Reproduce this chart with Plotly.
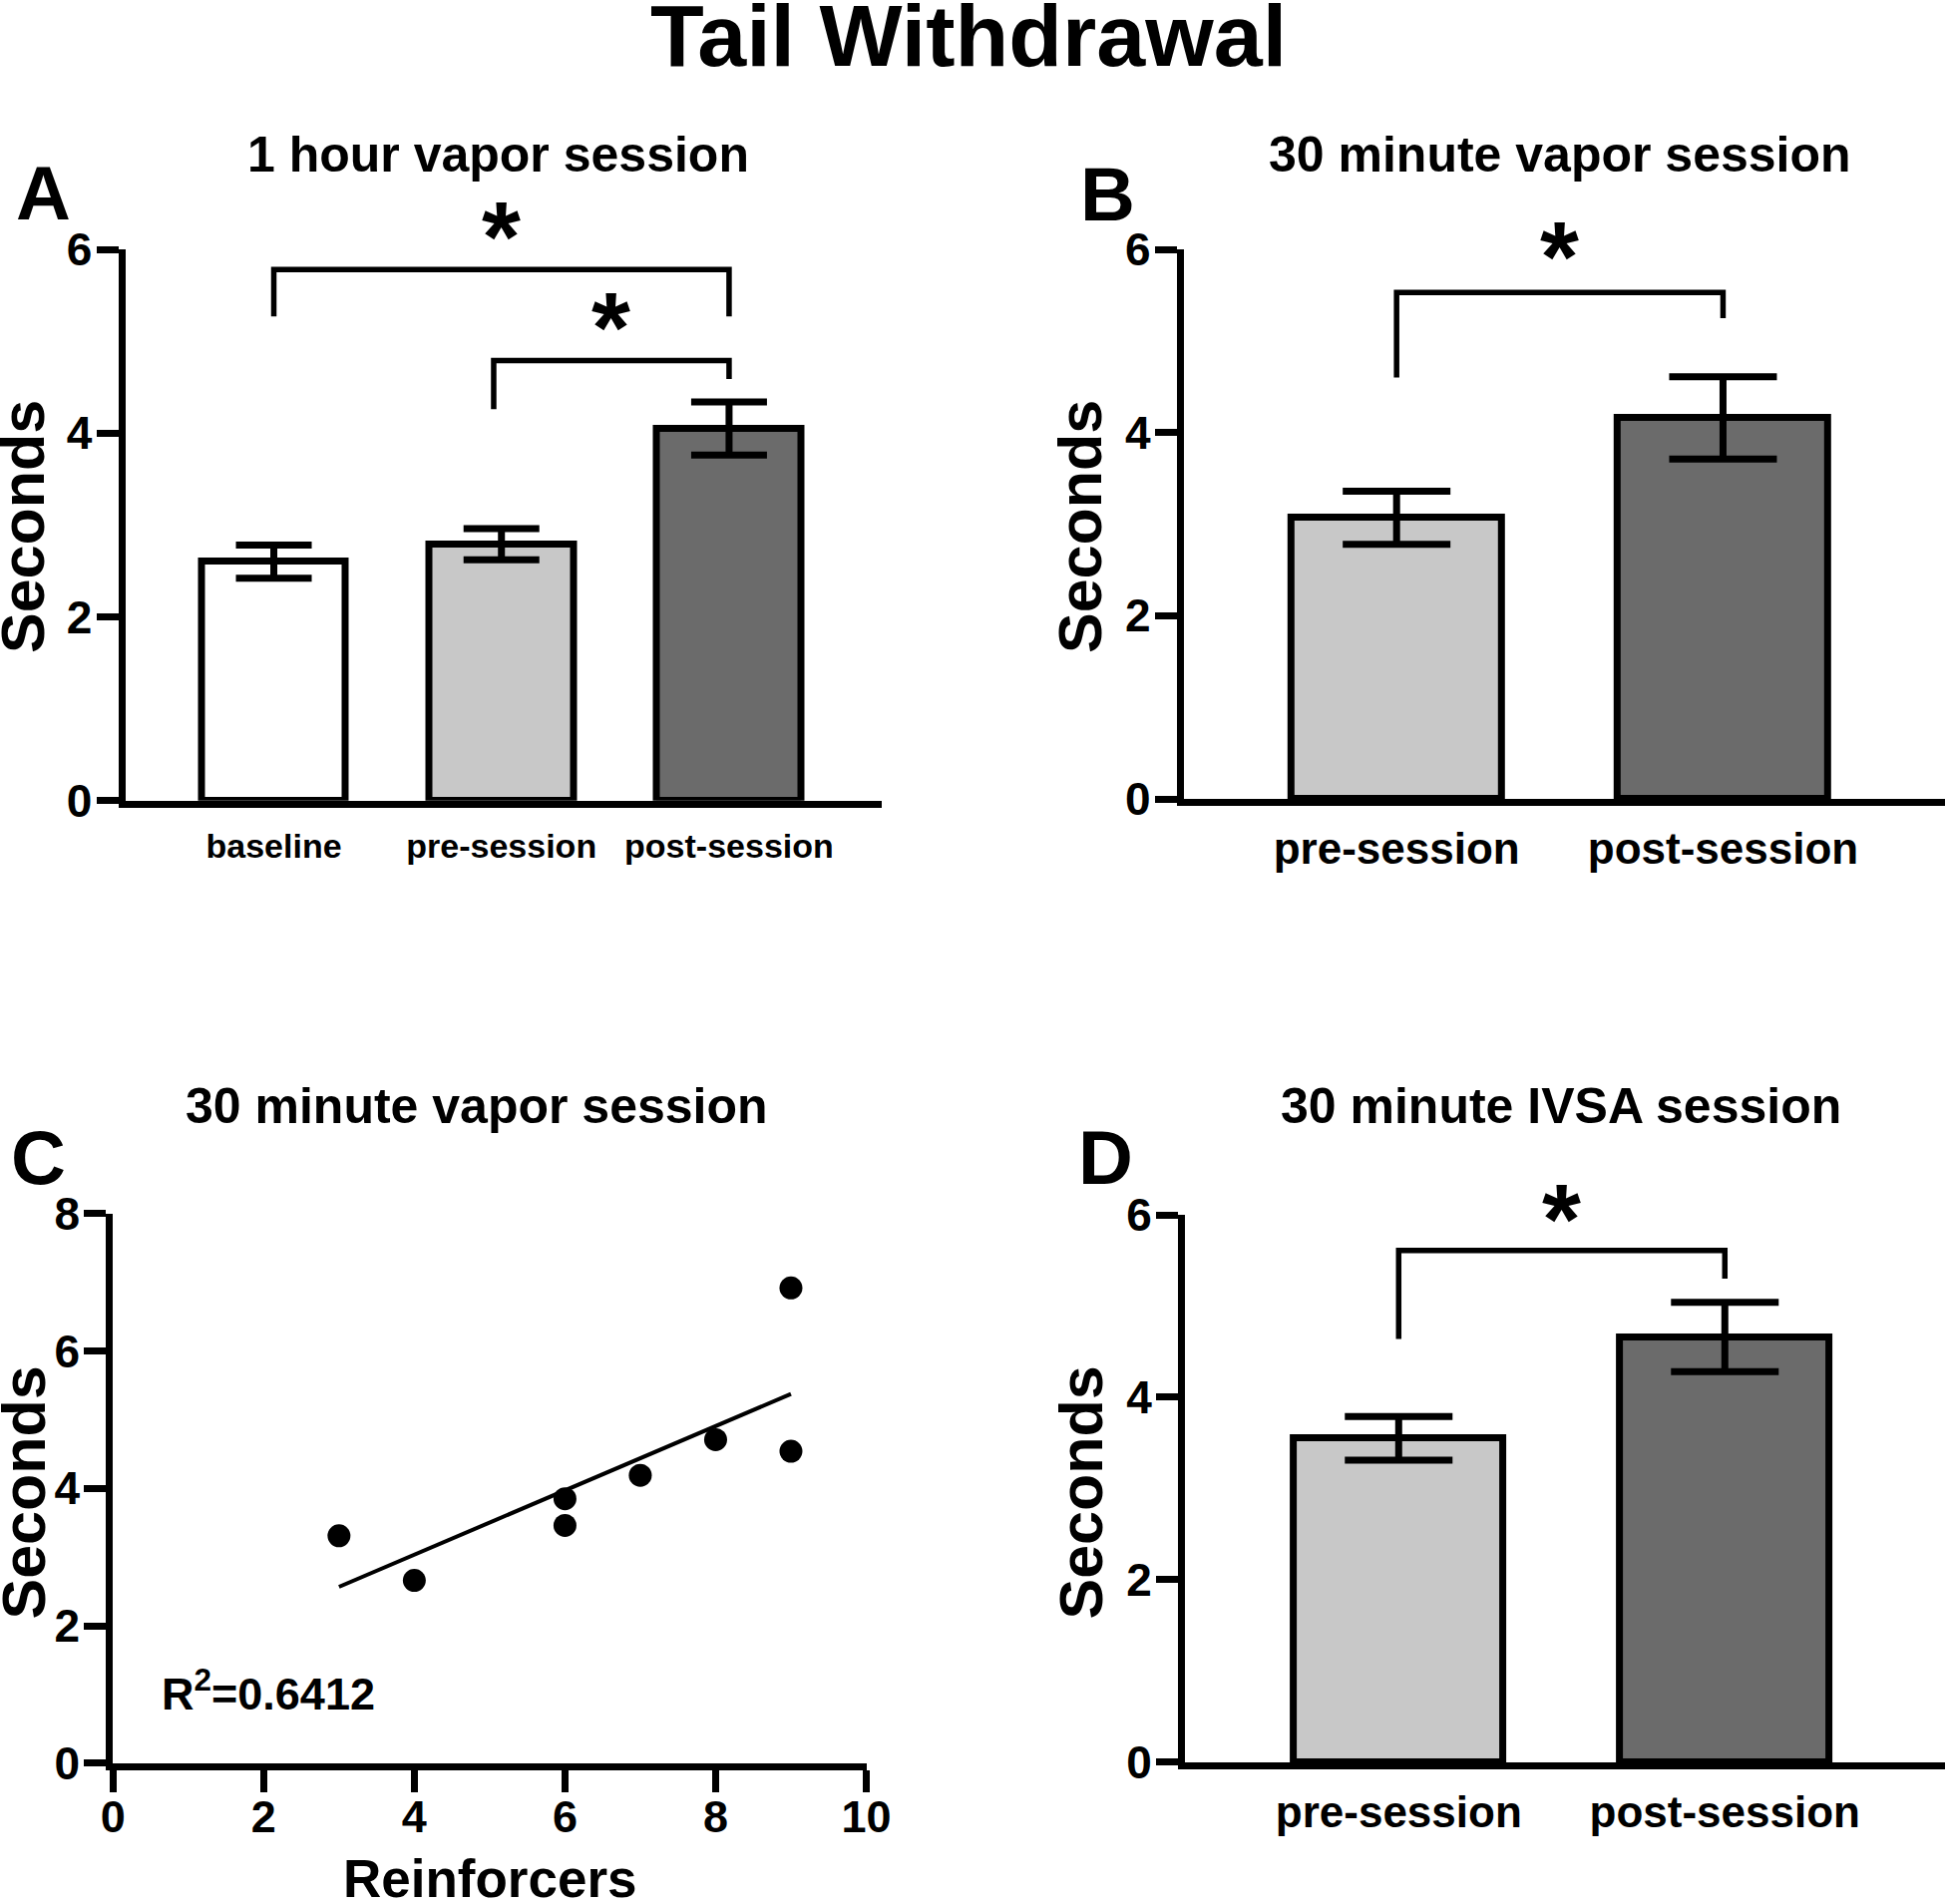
import numpy as np
import plotly.graph_objects as go

W, H = 1950, 1909
FONT = "Liberation Sans, Arial, sans-serif"

# Panel A - 1 hour vapor session
a_labels = ["baseline", "pre-session", "post-session"]
a_means = [2.60, 2.79, 4.05]
a_sem = [0.18, 0.17, 0.29]
a_colors = ["#ffffff", "#c8c8c8", "#6b6b6b"]

# Panel B - 30 minute vapor session
b_labels = ["pre-session", "post-session"]
b_means = [3.07, 4.16]
b_sem = [0.29, 0.45]

# Panel C - reinforcers vs withdrawal latency
c_reinforcers = [3, 4, 6, 6, 7, 8, 9, 9]
c_seconds = [3.31, 2.66, 3.85, 3.46, 4.19, 4.71, 6.92, 4.54]
c_r2_text = "R<sup>2</sup>=0.6412"

# Panel D - 30 minute IVSA session
d_labels = ["pre-session", "post-session"]
d_means = [3.55, 4.66]
d_sem = [0.24, 0.38]

two_colors = ["#c8c8c8", "#6b6b6b"]

# significance brackets: x_left, x_right, y_top, y_left_end, y_right_end, star_y
a_brackets = [(0, 2, 5.78, 5.27, 5.27, 6.28), (0.966, 2, 4.79, 4.26, 4.59, 5.29)]
b_brackets = [(0, 1, 5.53, 4.60, 5.25, 6.06)]
d_brackets = [(0, 1, 5.61, 4.64, 5.30, 6.10)]


def px_x(v):
    return v / W


def px_y(v):
    return 1 - v / H


# plot-area geometry of each panel in pixels: (left, right, bottom, top) + axis ranges
geo = {
    "A": dict(l=125.5, r=884.3, b=802.7, t=250, xr=[-0.653, 2.672], yr=[0, 6]),
    "B": dict(l=1186.8, r=W, b=801, t=250, xr=[-0.652, 1.68], yr=[0, 6]),
    "C": dict(l=113.3, r=868.5, b=1767.7, t=1216.9, xr=[0, 10], yr=[0, 8]),
    "D": dict(l=1188.1, r=W, b=1766.9, t=1218, xr=[-0.655, 1.675], yr=[0, 6]),
}


def data_to_paper(p, x, y):
    g = geo[p]
    fx = (x - g["xr"][0]) / (g["xr"][1] - g["xr"][0])
    fy = (y - g["yr"][0]) / (g["yr"][1] - g["yr"][0])
    return px_x(g["l"] + fx * (g["r"] - g["l"])), px_y(g["b"] - fy * (g["b"] - g["t"]))


fig = go.Figure()


def add_bars(xa, ya, labels, means, sem, colors, bar_w, cap_w):
    fig.add_trace(go.Bar(
        x=list(range(len(labels))),
        y=means,
        width=bar_w,
        marker=dict(color=colors, line=dict(color="black", width=7)),
        error_y=dict(type="data", array=sem, color="black", thickness=7, width=cap_w),
        xaxis=xa, yaxis=ya,
        showlegend=False,
    ))


add_bars("x", "y", a_labels, a_means, a_sem, a_colors, 0.635, 38)
add_bars("x2", "y2", b_labels, b_means, b_sem, two_colors, 0.644, 54)
add_bars("x4", "y4", d_labels, d_means, d_sem, two_colors, 0.644, 54)

# Panel C scatter + linear fit
slope, intercept = np.polyfit(c_reinforcers, c_seconds, 1)
fit_x = np.array([min(c_reinforcers), max(c_reinforcers)])
fig.add_trace(go.Scatter(
    x=fit_x, y=slope * fit_x + intercept, mode="lines",
    line=dict(color="black", width=4), xaxis="x3", yaxis="y3", showlegend=False,
))
fig.add_trace(go.Scatter(
    x=c_reinforcers, y=c_seconds, mode="markers",
    marker=dict(color="black", size=23), cliponaxis=False,
    xaxis="x3", yaxis="y3", showlegend=False,
))

shapes = []
annotations = []


def add_brackets(panel, xa, ya, brackets):
    for x0, x1, top, yl, yr, star_y in brackets:
        shapes.append(dict(
            type="path", xref=xa, yref=ya,
            path=f"M {x0},{yl} L {x0},{top} L {x1},{top} L {x1},{yr}",
            line=dict(color="black", width=5.5),
        ))
        sx, sy = data_to_paper(panel, (x0 + x1) / 2, star_y)
        annotations.append(dict(
            x=sx, y=sy, xref="paper", yref="paper", text="*",
            showarrow=False, xanchor="center", yanchor="middle", yshift=-13,
            font=dict(family=FONT, size=100, color="black", weight="bold"),
        ))


add_brackets("A", "x", "y", a_brackets)
add_brackets("B", "x2", "y2", b_brackets)
add_brackets("D", "x4", "y4", d_brackets)


def text(x, y, s, size, anchor="center", yanchor="middle", angle=0):
    annotations.append(dict(
        x=px_x(x), y=px_y(y), xref="paper", yref="paper", text=s,
        showarrow=False, xanchor=anchor, yanchor=yanchor, textangle=angle,
        font=dict(family=FONT, size=size, color="black", weight="bold"),
    ))


text(971, 35.5, "Tail Withdrawal", 88)
text(499, 154.7, "1 hour vapor session", 50)
text(1564, 154.7, "30 minute vapor session", 50)
text(477.6, 1109.4, "30 minute vapor session", 50)
text(1564.5, 1109.4, "30 minute IVSA session", 50)
text(43.5, 193.7, "A", 76)
text(1110, 194.7, "B", 76)
text(38.5, 1160.7, "C", 76)
text(1108.7, 1160.7, "D", 76)
for sx, sy in [(23, 528), (1083, 528), (23, 1496.5), (1083, 1496.5)]:
    text(sx, sy, "Seconds", 61, angle=-90)
text(492, 1883.3, "Reinforcers", 53)
text(160, 1726, c_r2_text, 45, anchor="left", yanchor="bottom")

tick_font = dict(family=FONT, size=46, color="black", weight="bold")
axis_common = dict(
    showline=True, linewidth=7, linecolor="black", showgrid=False,
    zeroline=False, fixedrange=True, automargin=False,
)
yaxis_common = dict(
    axis_common, ticks="outside", ticklen=22, tickwidth=7, tickcolor="black",
    tickfont=tick_font, ticklabelstandoff=-5,
)


def xdom(p):
    return [px_x(geo[p]["l"]), px_x(geo[p]["r"])]


def ydom(p):
    return [px_y(geo[p]["b"]), px_y(geo[p]["t"])]


fig.update_layout(
    width=W, height=H, autosize=False,
    margin=dict(l=0, r=0, t=0, b=0, pad=0),
    paper_bgcolor="white", plot_bgcolor="white",
    showlegend=False, bargap=0,
    shapes=shapes, annotations=annotations,
    # Panel A
    xaxis=dict(axis_common, domain=xdom("A"), range=geo["A"]["xr"],
               tickvals=[0, 1, 2], ticktext=a_labels, ticks="", ticklabelstandoff=9,
               tickfont=dict(family=FONT, size=34, color="black", weight="bold"), anchor="y"),
    yaxis=dict(yaxis_common, domain=ydom("A"), range=geo["A"]["yr"],
               tickvals=[0, 2, 4, 6], anchor="x"),
    # Panel B
    xaxis2=dict(axis_common, domain=xdom("B"), range=geo["B"]["xr"],
                tickvals=[0, 1], ticktext=b_labels, ticks="", ticklabelstandoff=5,
                tickfont=dict(family=FONT, size=44, color="black", weight="bold"), anchor="y2"),
    yaxis2=dict(yaxis_common, domain=ydom("B"), range=geo["B"]["yr"],
                tickvals=[0, 2, 4, 6], anchor="x2"),
    # Panel C
    xaxis3=dict(yaxis_common, domain=xdom("C"), range=geo["C"]["xr"],
                tickvals=[0, 2, 4, 6, 8, 10], ticklabelstandoff=-14, anchor="y3",
                tickfont=dict(family=FONT, size=45, color="black", weight="bold")),
    yaxis3=dict(yaxis_common, domain=ydom("C"), range=geo["C"]["yr"],
                tickvals=[0, 2, 4, 6, 8], anchor="x3"),
    # Panel D
    xaxis4=dict(axis_common, domain=xdom("D"), range=geo["D"]["xr"],
                tickvals=[0, 1], ticktext=d_labels, ticks="", ticklabelstandoff=5,
                tickfont=dict(family=FONT, size=44, color="black", weight="bold"), anchor="y4"),
    yaxis4=dict(yaxis_common, domain=ydom("D"), range=geo["D"]["yr"],
                tickvals=[0, 2, 4, 6], anchor="x4"),
)

fig.write_html("out.html", config={"displayModeBar": False},
               post_script="document.body.style.margin='0';")
